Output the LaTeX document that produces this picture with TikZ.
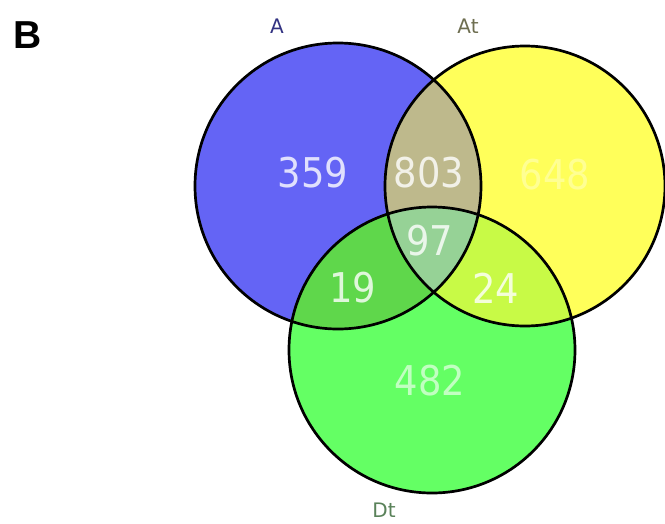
\documentclass[tikz,border=0pt]{standalone}
\usepackage{fontspec}
\setmainfont{DejaVu Sans}
\newfontfamily\numfont{DejaVu Sans Condensed}
\newfontfamily\bfont{Liberation Sans}
\definecolor{cA}{RGB}{100,100,245}
\definecolor{cAt}{RGB}{255,255,90}
\definecolor{cDt}{RGB}{100,255,100}
\definecolor{cAAt}{RGB}{190,185,140}
\definecolor{cADt}{RGB}{95,215,75}
\definecolor{cAtDt}{RGB}{200,250,70}
\definecolor{cAll}{RGB}{150,210,150}
\definecolor{labA}{RGB}{50,50,130}
\definecolor{labAt}{RGB}{110,110,80}
\definecolor{labDt}{RGB}{90,130,90}
\tikzset{
  num/.style={text=white, text opacity=0.8, font=\numfont\fontsize{41}{41}\selectfont, inner sep=0pt},
  setlab/.style={font=\fontsize{20}{20}\selectfont, inner sep=0pt},
  ring/.style={draw=black, line width=2.7pt}
}
\begin{document}
\begin{tikzpicture}[x=1pt,y=-1pt]
\useasboundingbox (0,0) rectangle (665,523);
\fill[white] (0,0) rectangle (665,523);
\coordinate (cA) at (338,186);
\coordinate (cT) at (525,186);
\coordinate (cD) at (432,350);
% base fills
\fill[cA] (cA) circle[radius=143];
\fill[cAt] (cT) circle[radius=140];
\fill[cDt] (cD) circle[radius=143];
% pairwise overlaps
\begin{scope}
  \clip (cA) circle[radius=143];
  \fill[cAAt] (cT) circle[radius=140];
\end{scope}
\begin{scope}
  \clip (cA) circle[radius=143];
  \fill[cADt] (cD) circle[radius=143];
\end{scope}
\begin{scope}
  \clip (cT) circle[radius=140];
  \fill[cAtDt] (cD) circle[radius=143];
\end{scope}
\begin{scope}
  \clip (cA) circle[radius=143];
  \clip (cT) circle[radius=140];
  \fill[cAll] (cD) circle[radius=143];
\end{scope}
% outlines
\draw[ring] (cA) circle[radius=143];
\draw[ring] (cT) circle[radius=140];
\draw[ring] (cD) circle[radius=143];
% counts
\node[num] (n359) at (313,173) {359};
\node[num] (n803) at (429,173) {803};
\node[num, text opacity=0.35] (n648) at (555,175) {648};
\node[num] (n97) at (430,241) {97};
\node[num] (n19) at (353,288) {19};
\node[num] (n24) at (496,288) {24};
\node[num, text opacity=0.6] (n482) at (430,381) {482};
% set labels
\node[setlab, text=labA] (lA) at (277,26) {A};
\node[setlab, text=labAt] (lAt) at (468,26) {At};
\node[setlab, text=labDt] (lDt) at (384,510) {Dt};
\node[font=\bfont\bfseries\fontsize{39}{39}\selectfont, inner sep=0pt] (lB) at (28,35) {B};
\end{tikzpicture}
\end{document}
